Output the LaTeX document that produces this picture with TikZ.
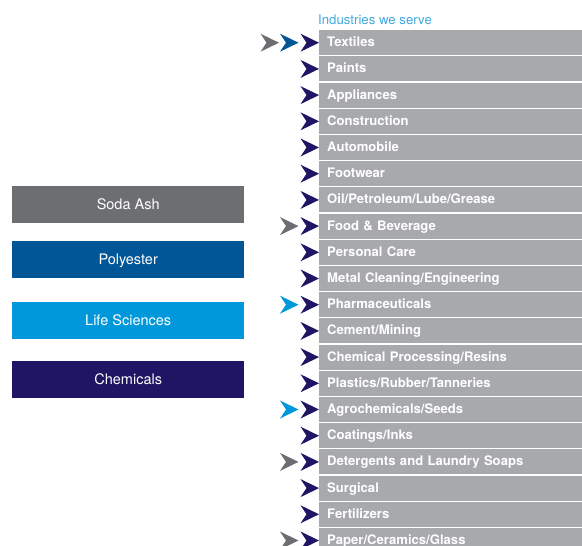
\documentclass[tikz,border=0pt]{standalone}
\usepackage{fontspec}
\setmainfont{TeX Gyre Heros}
\usetikzlibrary{positioning}

\definecolor{sodagray}{HTML}{6D6E71}
\definecolor{polyblue}{HTML}{005696}
\definecolor{lifeblue}{HTML}{0098DA}
\definecolor{chemnavy}{HTML}{1E1564}
\definecolor{bargray}{HTML}{A7A9AC}
\definecolor{headblue}{HTML}{3FA9E0}

\begin{document}
\begin{tikzpicture}[
  x=1pt, y=-1pt,
  node distance=18pt,
  unit/.style={fill=#1, text=white, minimum width=232pt, minimum height=36.7pt,
    inner sep=0pt, text height=12pt, text depth=2pt,
    font=\fontsize{14.5}{17}\selectfont},
  bar/.style={fill=bargray, text=white, anchor=north west, minimum height=25pt,
    text width=247pt, inner xsep=8pt, inner ysep=0pt, align=left,
    text height=10.5pt, text depth=2.5pt,
    font=\bfseries\fontsize{13.1}{15}\selectfont},
  head/.style={text=headblue, inner sep=0pt, font=\fontsize{13.2}{15}\selectfont},
  chev/.pic={\fill (0,0) -- (-18.5,-9) -- (-12.5,0) -- (-18.5,9) -- cycle;}
]
  \useasboundingbox (0,0) rectangle (582,546);

  % business units
  \node (soda) [unit=sodagray, anchor=north west] at (12,186) {Soda Ash};
  \node (poly) [unit=polyblue, below=17.5pt of soda] {Polyester};
  \node (life) [unit=lifeblue, below=24pt of poly] {Life Sciences};
  \node (chem) [unit=chemnavy, below=22pt of life] {Chemicals};

  % industries
  \node (title) [head, anchor=base west] at (318,24) {Industries we serve};
  \foreach \name [count=\i from 0] in {Textiles, Paints, Appliances, Construction,
      Automobile, Footwear, Oil/Petroleum/Lube/Grease, Food \& Beverage,
      Personal Care, Metal Cleaning/Engineering, Pharmaceuticals, Cement/Mining,
      Chemical Processing/Resins, Plastics/Rubber/Tanneries, Agrochemicals/Seeds,
      Coatings/Inks, Detergents and Laundry Soaps, Surgical, Fertilizers,
      Paper/Ceramics/Glass}
    \node (ind\i) [bar] at (319,{30+26.2*\i}) {\name};

  % chevrons
  \foreach \i in {0,...,19}
    \pic[color=chemnavy] at (ind\i.west) {chev};
  \pic[color=polyblue] at ([xshift=-20.5pt]ind0.west) {chev};
  \pic[color=sodagray] at ([xshift=-40pt]ind0.west) {chev};
  \pic[color=sodagray] at ([xshift=-20.5pt]ind7.west) {chev};
  \pic[color=lifeblue] at ([xshift=-20.5pt]ind10.west) {chev};
  \pic[color=lifeblue] at ([xshift=-20.5pt]ind14.west) {chev};
  \pic[color=sodagray] at ([xshift=-20.5pt]ind16.west) {chev};
  \pic[color=sodagray] at ([xshift=-20.5pt]ind19.west) {chev};
\end{tikzpicture}
\end{document}
